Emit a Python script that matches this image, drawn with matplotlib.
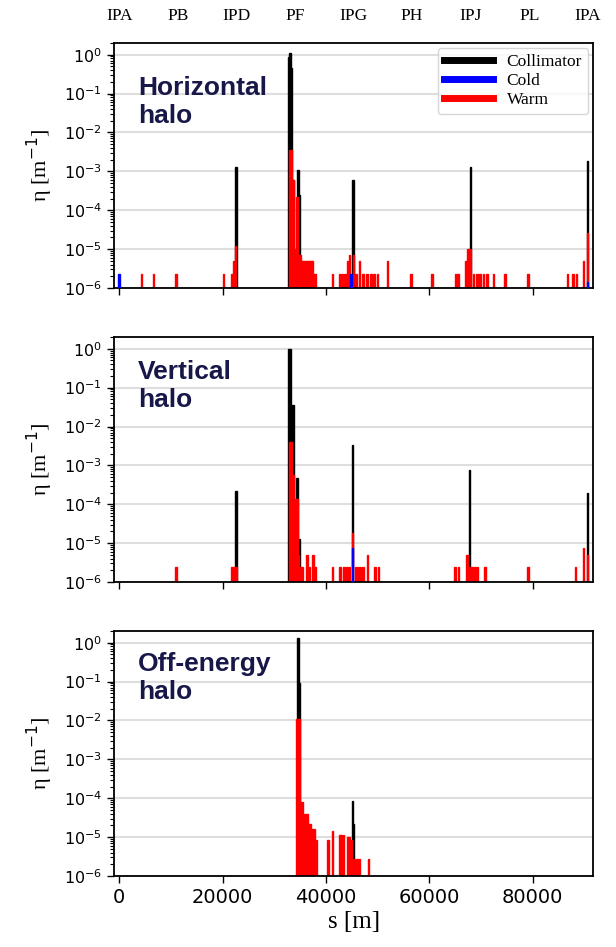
import matplotlib.pyplot as plt
import matplotlib.transforms as mtransforms
from matplotlib.ticker import LogLocator, NullFormatter
from matplotlib.lines import Line2D

# ring layout (top labels)
circ = 90658.
ip_names = ['IPA', 'PB', 'IPD', 'PF', 'IPG', 'PH', 'IPJ', 'PL', 'IPA']
ip_pos = [i * circ / 8 for i in range(9)]

# ---- horizontal halo
h_col_s = [22580, 32850, 33100, 33350, 33600, 34550, 34850, 45250, 67950, 90600]
h_col_v = [1.3e-3, 0.85, 1.1, 0.45, 6e-4, 1.1e-3, 2.4e-4, 6e-4, 1.3e-3, 1.8e-3]
h_warm_s = [4320, 6640, 11030, 20190, 21800, 22120, 22500,
            32960, 33280, 33600, 33990, 34380, 34770, 35100, 35410, 35800,
            36050, 36310, 36570, 36830, 37090, 37350, 37640, 37930,
            41280, 42630, 43150, 43670, 44180, 44570, 45340, 45860, 46500,
            47150, 47920, 48700, 49340, 49990, 51920, 56440, 60500,
            65080, 65600, 67140, 67530, 67920, 68560, 69210, 69850, 70500,
            71140, 72430, 74690, 79080, 86750, 87780, 88430, 89850, 90620]
h_warm_v = [2.3e-6, 2.3e-6, 2.3e-6, 2.3e-6, 2.3e-6, 5e-6, 1.2e-5,
            3.6e-3, 3.6e-3, 6e-4, 1e-5, 2.2e-4, 7e-6, 7e-6, 5e-6, 5e-6,
            5e-6, 5e-6, 5e-6, 5e-6, 5e-6, 5e-6, 2.3e-6, 2.3e-6,
            2.3e-6, 2.3e-6, 2.3e-6, 2.3e-6, 5e-6, 7e-6, 7e-6, 2.3e-6, 5e-6,
            2.3e-6, 2.3e-6, 2.3e-6, 2.3e-6, 2.3e-6, 5e-6, 2.3e-6, 2.3e-6,
            2.3e-6, 2.3e-6, 5e-6, 1e-5, 1e-5, 2.3e-6, 2.3e-6, 2.3e-6, 2.3e-6,
            2.3e-6, 2.3e-6, 2.3e-6, 2.3e-6, 2.3e-6, 2.3e-6, 2.3e-6, 5e-6, 2.6e-5]
h_cold_s = [0, 44890, 90620]
h_cold_v = [2.3e-6, 2.3e-6, 1.4e-6]

# ---- vertical halo
v_col_s = [22580, 32900, 33150, 33600, 34380, 34830, 45150, 67790, 90620]
v_col_v = [2.2e-4, 1.0, 1.0, 0.036, 4.7e-4, 1.3e-5, 3.4e-3, 7.4e-4, 1.9e-4]
v_warm_s = [11030, 21700, 22000, 22580,
            33000, 33300, 33600, 34060, 34380, 34700, 35020, 35410, 36310,
            36830, 37480, 37930,
            41280, 42760, 43400, 43800, 44200, 44600, 45150, 45700, 46100,
            46500, 46900, 47300, 48050, 49540, 50180,
            65000, 65660, 67270, 67800, 68300, 68800, 69300, 70820, 79080,
            88240, 89850, 90620]
v_warm_v = [2.4e-6, 2.4e-6, 2.4e-6, 2.4e-6,
            4.1e-3, 4.1e-3, 5.6e-4, 1.4e-4, 1.4e-4, 4.9e-6, 2.4e-6, 2.4e-6, 4.9e-6,
            2.4e-6, 4.9e-6, 2.4e-6,
            2.4e-6, 2.4e-6, 2.4e-6, 2.4e-6, 2.4e-6, 2.4e-6, 1.8e-5, 2.4e-6, 2.4e-6,
            2.4e-6, 2.4e-6, 2.4e-6, 4.9e-6, 2.4e-6, 2.4e-6,
            2.4e-6, 2.4e-6, 4.9e-6, 2.4e-6, 2.4e-6, 2.4e-6, 2.4e-6, 2.4e-6, 2.4e-6,
            2.4e-6, 7.4e-6, 4.9e-6]
v_cold_s = [45150]
v_cold_v = [7.3e-6]

# ---- off-energy halo
o_col_s = [34570, 34900, 45150, 45350]
o_col_v = [1.3, 0.093, 8.5e-5, 2.2e-5]
o_warm_s = [34400, 34750, 35100, 35500, 36000, 36300, 36650, 36950, 37300,
            37700, 38100, 40450, 41250, 42700, 43050, 43400, 44250, 44550,
            44900, 45470, 45990, 46500, 48250]
o_warm_v = [0.011, 0.011, 8e-5, 8e-5, 4e-5, 4e-5, 2.2e-5, 2.2e-5, 1.6e-5,
            1.6e-5, 8.6e-6, 8.6e-6, 1.4e-5, 1.1e-5, 1.1e-5, 1.1e-5, 1e-5, 1e-5,
            8.6e-6, 2.8e-6, 2.8e-6, 2.8e-6, 2.8e-6]
o_cold_s = []
o_cold_v = []

W = 300.
navy = '#17174a'

fig = plt.figure(figsize=(6.16, 9.47), dpi=100)
boxes = [[0.185, 0.6959, 0.778, 0.2587],
         [0.185, 0.3854, 0.778, 0.2587],
         [0.185, 0.0750, 0.778, 0.2587]]
panels = [(h_col_s, h_col_v, h_warm_s, h_warm_v, h_cold_s, h_cold_v, 'Horizontal\nhalo', 0.865),
          (v_col_s, v_col_v, v_warm_s, v_warm_v, v_cold_s, v_cold_v, 'Vertical\nhalo', 0.905),
          (o_col_s, o_col_v, o_warm_s, o_warm_v, o_cold_s, o_cold_v, 'Off-energy\nhalo', 0.915)]

axes = []
for k, (cs, cv, ws, wv, ks, kv, lab, ty) in enumerate(panels):
    ax = fig.add_axes(boxes[k])
    ax.set_yscale('log')
    ax.bar(cs, [v - 1e-7 for v in cv], width=W, bottom=1e-7, color='black', ec='black', lw=1.0)
    ax.bar(ws, [v - 1e-7 for v in wv], width=W, bottom=1e-7, color='red', ec='red', lw=1.0, zorder=2)
    ax.bar(ks, [v - 1e-7 for v in kv], width=W, bottom=1e-7, color='blue', ec='blue', lw=1.0, zorder=3)
    ax.set_xlim(-1000, 91700)
    ax.set_ylim(1e-6, 2)
    ax.set_yticks([1e0, 1e-1, 1e-2, 1e-3, 1e-4, 1e-5, 1e-6])
    ax.yaxis.set_minor_locator(LogLocator(base=10, subs=range(2, 10), numticks=20))
    ax.yaxis.set_minor_formatter(NullFormatter())
    ax.set_xticks([0, 20000, 40000, 60000, 80000])
    ax.grid(axis='y', which='major', color='#dedede', lw=1.5)
    ax.set_axisbelow(True)
    ax.tick_params(axis='y', which='major', length=5, width=1, labelsize=11.5)
    ax.tick_params(axis='y', which='minor', length=3, width=0.8)
    ax.tick_params(axis='x', length=5, width=1, labelsize=14)
    for sp in ax.spines.values():
        sp.set_linewidth(1.3)
    if k < 2:
        ax.set_xticklabels([])
    ax.set_ylabel(r'$\mathregular{\eta}$ [m$^{-1}$]', family='Liberation Serif', fontsize=16, labelpad=6)
    ax.text(0.05, ty, lab, transform=ax.transAxes, va='top', ha='left',
            family='Liberation Sans', weight='bold', fontsize=19, color=navy, linespacing=1.2)
    axes.append(ax)

axes[2].set_xlabel('s [m]', family='Liberation Serif', fontsize=18, labelpad=3)

hh = [Line2D([], [], color=c, lw=5) for c in ['black', 'blue', 'red']]
axes[0].legend(hh, ['Collimator', 'Cold', 'Warm'], loc='upper right',
               prop={'family': 'Liberation Serif', 'size': 12.5},
               labelspacing=0.15, handlelength=2.8, borderaxespad=0.3, framealpha=0.8,
               edgecolor='#cccccc', borderpad=0.35)

tr = mtransforms.blended_transform_factory(axes[0].transData, fig.transFigure)
for name, p in zip(ip_names, ip_pos):
    axes[0].text(p, 0.983, name, transform=tr, ha='center', va='center',
                 family='Liberation Serif', fontsize=12.5)

fig.savefig('out.png', dpi=100)
